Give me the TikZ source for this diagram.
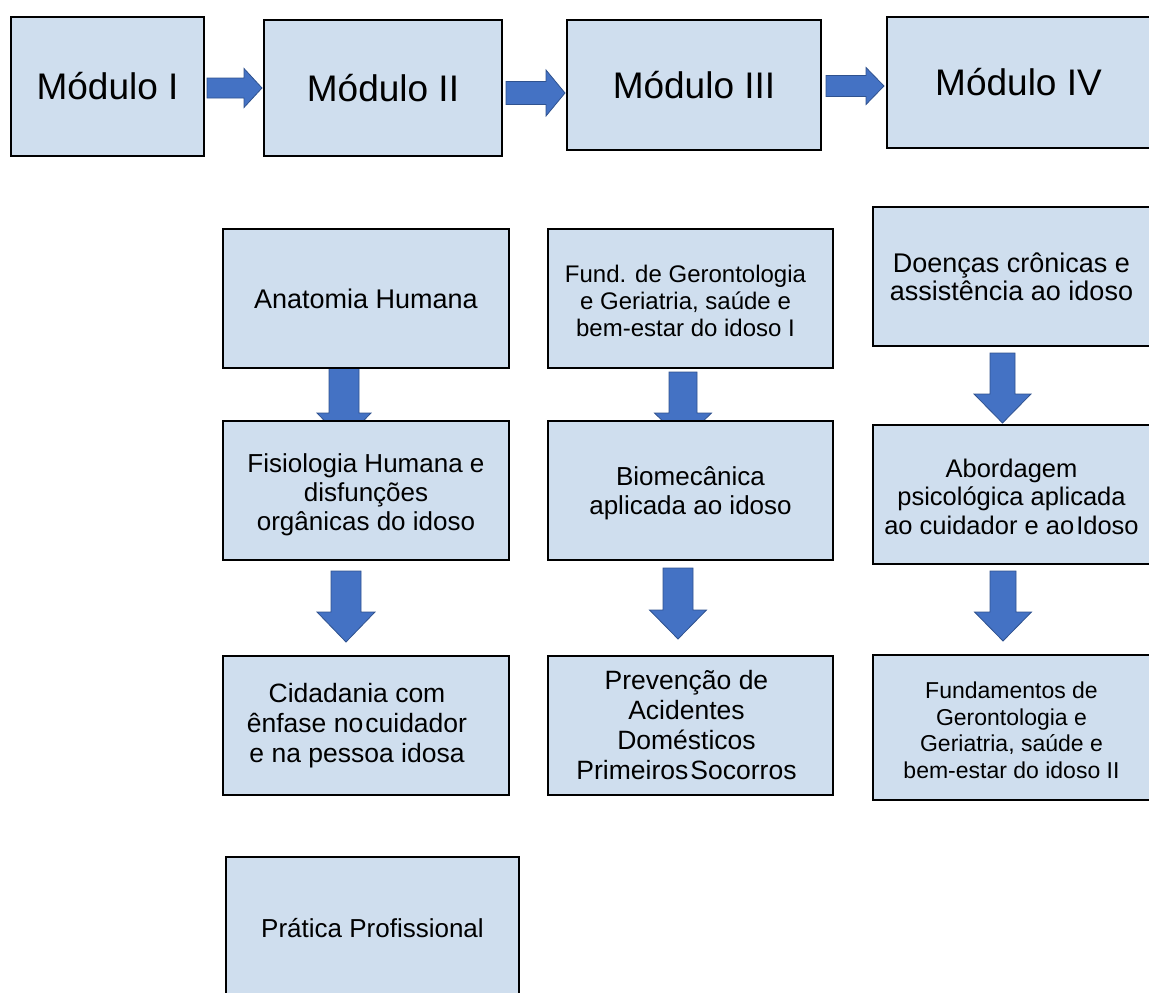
\documentclass[tikz,border=0pt]{standalone}
\usepackage{fontspec}
\setmainfont{Liberation Sans}
\usetikzlibrary{calc}
\definecolor{boxfill}{RGB}{207,222,238}
\definecolor{arrfill}{RGB}{68,114,196}
\definecolor{arrline}{RGB}{47,82,143}
\pgfdeclarelayer{bg}
\pgfsetlayers{bg,main}
\tikzset{
  box/.style={draw=black, fill=boxfill, line width=1.6pt, inner sep=0pt, outer sep=0pt},
  txt/.style={align=center, inner sep=0pt, text=black},
  blk/.style={fill=arrfill, draw=arrline, line width=0.8pt, line join=miter},
}
\newcommand\hblk[5]{%
  \draw[blk] let \p1=(#1), \p2=(#2) in
    (\x1,\y1+#3pt) -- (\x2-#5pt,\y1+#3pt) -- (\x2-#5pt,\y1+#4pt) -- (\x2,\y1)
    -- (\x2-#5pt,\y1-#4pt) -- (\x2-#5pt,\y1-#3pt) -- (\x1,\y1-#3pt) -- cycle;}
\newcommand\vblk[5]{%
  \draw[blk] let \p1=(#1), \p2=(#2) in
    (\x1-#3pt,\y1) -- (\x1-#3pt,\y2+#5pt) -- (\x1-#4pt,\y2+#5pt) -- (\x1,\y2)
    -- (\x1+#4pt,\y2+#5pt) -- (\x1+#3pt,\y2+#5pt) -- (\x1+#3pt,\y1) -- cycle;}
\begin{document}
\begin{tikzpicture}[x=1pt,y=-1pt]
\useasboundingbox (0,0) rectangle (1149,993);
% top row
\node[box, minimum width=193pt, minimum height=139pt] (m1) at (107.5,86.5) {};
\node[box, minimum width=238pt, minimum height=136pt] (m2) at (383,88) {};
\node[box, minimum width=254pt, minimum height=130pt] (m3) at (694,85) {};
\node[box, minimum width=263pt, minimum height=131pt] (m4) at (1018.5,82.5) {};
\node[txt, font=\fontsize{37}{44}\selectfont] (m1t) at (m1.center) {Módulo I};
\node[txt, font=\fontsize{37}{44}\selectfont] (m2t) at (m2.center) {Módulo II};
\node[txt, font=\fontsize{37}{44}\selectfont] (m3t) at (m3.center) {Módulo III};
\node[txt, font=\fontsize{37}{44}\selectfont] (m4t) at (m4.center) {Módulo IV};
% column 1
\node[box, minimum width=286pt, minimum height=139pt] (anat) at (366,298.5) {};
\node[box, minimum width=286pt, minimum height=139pt] (fisio) at (366,490.5) {};
\node[box, minimum width=286pt, minimum height=139pt] (cid) at (366,725.5) {};
% column 2
\node[box, minimum width=285pt, minimum height=139pt] (fund) at (690.5,298.5) {};
\node[box, minimum width=285pt, minimum height=139pt] (bio) at (690.5,490.5) {};
\node[box, minimum width=285pt, minimum height=139pt] (prev) at (690.5,725.5) {};
% column 3
\node[box, minimum width=277pt, minimum height=139pt] (doen) at (1011.5,276.5) {};
\node[box, minimum width=277pt, minimum height=139pt] (abor) at (1011.5,494.5) {};
\node[box, minimum width=277pt, minimum height=145pt] (fundam) at (1011.5,727.5) {};
% bottom
\node[box, minimum width=293pt, minimum height=143pt] (prat) at (372.5,928.5) {};
% texts
\node[txt, font=\fontsize{27}{31}\selectfont] (anatt) at (anat.center) {Anatomia Humana};
\node[txt, font=\fontsize{26}{29}\selectfont] (fisiot) at ($(fisio.center)+(0,4)$) {Fisiologia Humana e\\disfunções\\orgânicas do idoso};
\node[txt, font=\fontsize{26.5}{30}\selectfont] (cidt) at ($(cid.center)+(-9,0)$) {Cidadania com\\ênfase no\hspace{0.08em}cuidador\\e na pessoa idosa};
\node[txt, font=\fontsize{24}{27}\selectfont] (fundt) at ($(fund.center)+(-5,2)$) {Fund. de Gerontologia\\e Geriatria, saúde e\\bem-estar do idoso I};
\node[txt, font=\fontsize{26}{29}\selectfont] (biot) at ($(bio.center)+(0,3)$) {Biomecânica\\aplicada ao idoso};
\node[txt, font=\fontsize{26.5}{30}\selectfont] (prevt) at ($(prev.center)+(-4,0)$) {Prevenção de\\Acidentes\\Domésticos\\Primeiros\hspace{0.08em}Socorros};
\node[txt, font=\fontsize{27}{28}\selectfont] (doent) at ($(doen.center)+(0,0)$) {Doenças crônicas e\\assistência ao idoso};
\node[txt, font=\fontsize{25.5}{28.5}\selectfont] (abort) at ($(abor.center)+(0,2)$) {Abordagem\\psicológica aplicada\\ao cuidador e ao\hspace{0.08em}Idoso};
\node[txt, font=\fontsize{23}{26.5}\selectfont] (fundamt) at ($(fundam.center)+(0,3)$) {Fundamentos de\\Gerontologia e\\Geriatria, saúde e\\bem-estar do idoso II};
\node[txt, font=\fontsize{26}{30}\selectfont] (pratt) at ($(prat.center)+(0,0)$) {Prática Profissional};
% arrows
\coordinate (h1s) at ($(m1.east)+(3,1.5)$);
\coordinate (h1e) at ($(m2.west)+(-2,0)$);
\coordinate (h2s) at ($(m2.east)+(4,5)$);
\coordinate (h2e) at ($(m3.west)+(-2,0)$);
\coordinate (h3s) at ($(m3.east)+(5,1)$);
\coordinate (h3e) at ($(m4.west)+(-3,0)$);
\coordinate (v1s) at ($(anat.south)+(-22,0)$);
\coordinate (v1e) at ($(fisio.north)+(-22,20)$);
\coordinate (v2s) at ($(fund.south)+(-7.5,4)$);
\coordinate (v2e) at ($(bio.north)+(-7.5,20)$);
\coordinate (v3s) at ($(fisio.south)+(-20,11)$);
\coordinate (v3e) at ($(cid.north)+(-20,-14)$);
\coordinate (v4s) at ($(bio.south)+(-12.5,8)$);
\coordinate (v4e) at ($(prev.north)+(-12.5,-17)$);
\coordinate (v5s) at ($(doen.south)+(-9,7)$);
\coordinate (v5e) at ($(abor.north)+(-9,-2)$);
\coordinate (v6s) at ($(abor.south)+(-8.5,7)$);
\coordinate (v6e) at ($(fundam.north)+(-8.5,-14)$);
\begin{pgfonlayer}{bg}
\hblk{h1s}{h1e}{10}{19.5}{18}
\hblk{h2s}{h2e}{11.5}{23}{19}
\hblk{h3s}{h3e}{10.5}{18.5}{18}
\vblk{v1s}{v1e}{15}{27}{28}
\vblk{v2s}{v2e}{14}{28.5}{28}
\vblk{v3s}{v3e}{15}{29}{30}
\vblk{v4s}{v4e}{15}{28.5}{29}
\vblk{v5s}{v5e}{12.5}{28.5}{29}
\vblk{v6s}{v6e}{13}{28.5}{29}
\end{pgfonlayer}
\end{tikzpicture}
\end{document}
